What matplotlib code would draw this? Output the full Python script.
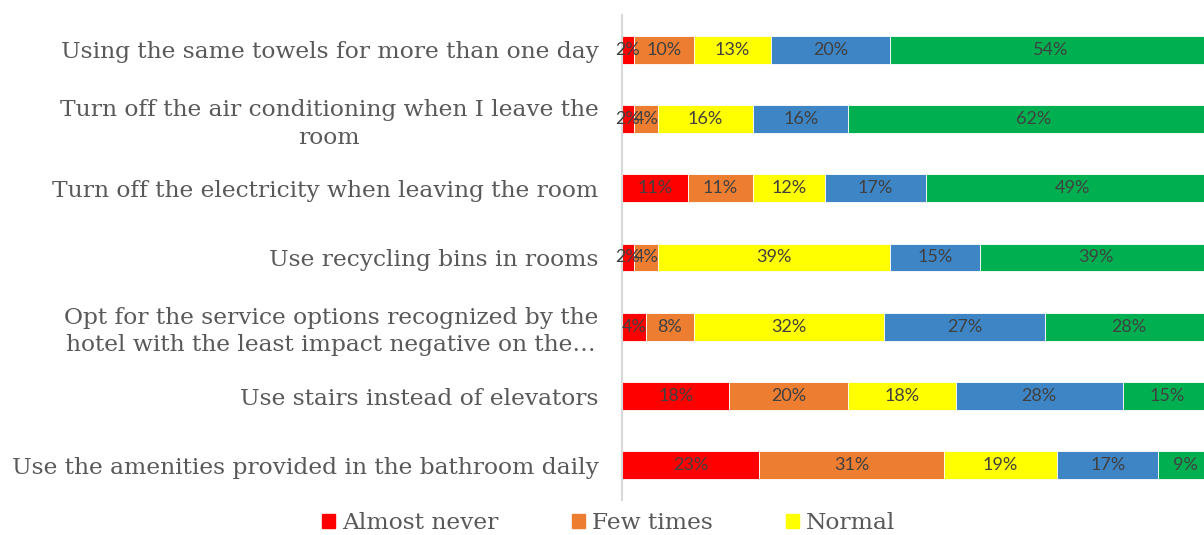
import numpy as np
import matplotlib.pyplot as plt
from matplotlib.patches import Patch

# categories, top to bottom
categories = [
    "Using the same towels for more than one day",
    "Turn off the air conditioning when I leave the\nroom",
    "Turn off the electricity when leaving the room",
    "Use recycling bins in rooms",
    "Opt for the service options recognized by the\nhotel with the least impact negative on the\u2026",
    "Use stairs instead of elevators",
    "Use the amenities provided in the bathroom daily",
]

series_names = ["Almost never", "Few times", "Normal", "Often", "Always"]
almost_never = [2, 2, 11, 2, 4, 18, 23]
few_times = [10, 4, 11, 4, 8, 20, 31]
normal = [13, 16, 12, 39, 32, 18, 19]
often = [20, 16, 17, 15, 27, 28, 17]
always = [54, 62, 49, 39, 28, 15, 9]

colors = ["#FF0000", "#ED7D31", "#FFFF00", "#3E85C6", "#00B050"]
serif = "DejaVu Serif"

fig = plt.figure(figsize=(12.04, 5.35), dpi=100)
# axis starts at x=622 px; 100% ends past the right edge (the chart is cropped)
ax = fig.add_axes([622 / 1204, 35 / 535, 596 / 1204, 485 / 535])

data = np.array([almost_never, few_times, normal, often, always], dtype=float)
y = np.arange(len(categories))
left = np.zeros(len(categories))
for i, vals in enumerate(data):
    ax.barh(y, vals, left=left, height=0.4, color=colors[i],
            edgecolor="white", linewidth=0.6, label=series_names[i])
    for yy, l, v in zip(y, left, vals):
        ax.text(l + v / 2, yy, f"{int(v)}%", ha="center", va="center",
                fontsize=13, color="#404040", family="Lato")
    left += vals

ax.set_xlim(0, 100)
ax.set_ylim(len(categories) - 0.5, -0.5)
ax.set_yticks(y)
ax.set_yticklabels(categories, family=serif, fontsize=16.8,
                   color="#595959", multialignment="center",
                   linespacing=1.3)
ax.tick_params(axis="y", length=0, pad=17)
ax.set_xticks([])
for s in ["top", "right", "bottom"]:
    ax.spines[s].set_visible(False)
ax.spines["left"].set_color("#D9D9D9")
ax.spines["left"].set_linewidth(1.5)

handles = [Patch(color=colors[i]) for i in range(3)]
fig.legend(handles, series_names[:3], loc="center left",
           bbox_to_anchor=(322 / 1204, 1 - 523 / 535), ncol=3, frameon=False,
           borderpad=0, borderaxespad=0,
           prop={"family": serif, "size": 16.8},
           handlelength=0.55, handleheight=0.55, handletextpad=0.3,
           columnspacing=3.15, labelcolor="#595959")

fig.savefig("out.png", dpi=100)
